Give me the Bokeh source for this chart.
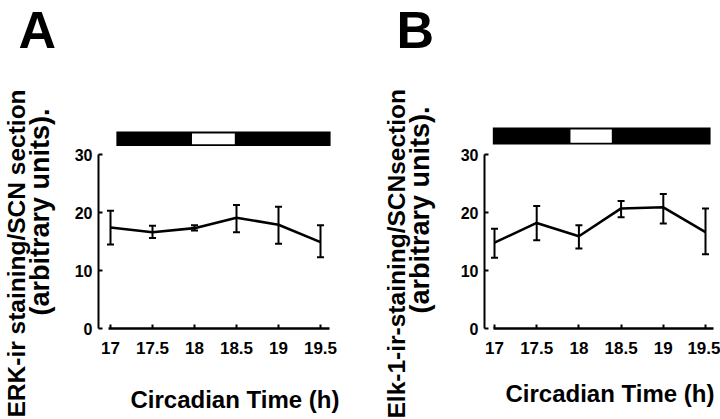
import math
from bokeh.plotting import figure
from bokeh.layouts import row
from bokeh.models import ColumnDataSource, Whisker, TeeHead, FixedTicker, Range1d
from bokeh.core.properties import value
from bokeh.embed import file_html
from bokeh.resources import INLINE

# ---------------- data ----------------
times = [17, 17.5, 18, 18.5, 19, 19.5]
time_labels = ["17", "17.5", "18", "18.5", "19", "19.5"]
y_ticks = [0, 10, 20, 30]

erk_mean = [17.4, 16.6, 17.3, 19.1, 17.9, 14.9]
erk_low = [14.5, 15.6, 16.9, 16.6, 14.6, 12.3]
erk_high = [20.3, 17.7, 17.8, 21.3, 21.0, 17.8]

elk_mean = [14.8, 18.2, 15.9, 20.7, 20.9, 16.6]
elk_low = [12.2, 15.2, 13.8, 19.2, 18.1, 12.8]
elk_high = [17.2, 21.1, 17.8, 22.0, 23.2, 20.7]

# light/dark bars (circadian time)
erk_dark = [17.07, 19.62]
erk_light = [17.97, 18.48]
elk_dark = [16.98, 19.56]
elk_light = [17.90, 18.39]

FONT = "Liberation Sans"
H = 419
FRAME_TOP, FRAME_BOTTOM = 154, 328  # page pixels


def panel(letter, means, lows, highs, dark, light, ylab1, ylab2, g):
    x17, ppu = g["x17"], g["ppu"]
    ypp = 30.0 / (FRAME_BOTTOM - FRAME_TOP)
    W = g["width"]

    def px2x(px):
        return 17 + (px - x17) / ppu

    def py2y(py):
        return (FRAME_BOTTOM - py) * ypp

    p = figure(width=W, height=H, output_backend="svg", toolbar_location=None,
               x_range=Range1d(px2x(g["frame_left"]), px2x(g["frame_right"])),
               y_range=Range1d(0, 30),
               min_border_left=g["frame_left"] - g["origin"],
               min_border_right=g["origin"] + W - g["frame_right"],
               min_border_top=FRAME_TOP,
               min_border_bottom=H - FRAME_BOTTOM)
    p.outline_line_color = None
    p.grid.visible = False
    p.background_fill_color = "white"
    p.border_fill_color = "white"

    # axes
    p.xaxis.ticker = FixedTicker(ticks=times)
    p.xaxis.major_label_overrides = {t: l for t, l in zip(times, time_labels)}
    p.xaxis.axis_line_color = None
    p.xaxis.major_tick_in = 4
    p.xaxis.major_tick_out = 0
    p.xaxis.major_tick_line_width = 2
    p.xaxis.minor_tick_line_color = None
    p.xaxis.major_label_text_font = FONT
    p.xaxis.major_label_text_font_style = "bold"
    p.xaxis.major_label_text_font_size = "17px"
    p.xaxis.major_label_text_color = "black"
    p.xaxis.major_label_standoff = 13

    p.yaxis.ticker = FixedTicker(ticks=y_ticks)
    p.yaxis.axis_line_width = 2
    p.yaxis.axis_line_color = "black"
    p.yaxis.major_tick_in = 4
    p.yaxis.major_tick_out = 0
    p.yaxis.major_tick_line_width = 2
    p.yaxis.minor_tick_line_color = None
    p.yaxis.major_label_text_font = FONT
    p.yaxis.major_label_text_font_style = "bold"
    p.yaxis.major_label_text_font_size = "16px"
    p.yaxis.major_label_text_color = "black"
    p.yaxis.major_label_standoff = 6

    # x axis baseline (detached from the y axis)
    p.segment(x0=[px2x(g["xline"][0])], y0=[0], x1=[px2x(g["xline"][1])], y1=[0],
              line_color="black", line_width=2.5, level="overlay")

    # light/dark bar above plot
    band_lo, band_hi = py2y(g["band"][1]), py2y(g["band"][0])
    p.quad(left=[dark[0]], right=[dark[1]], bottom=[band_lo], top=[band_hi],
           fill_color="black", line_color=None, level="overlay")
    p.quad(left=[light[0]], right=[light[1]], bottom=[band_lo + 0.3], top=[band_hi - 0.35],
           fill_color="white", line_color=None, level="overlay")

    src = ColumnDataSource(dict(x=times, y=means, lo=lows, hi=highs))
    p.line("x", "y", source=src, line_color="black", line_width=2.6)
    p.add_layout(Whisker(source=src, base="x", lower="lo", upper="hi",
                         line_color="black", line_width=2,
                         upper_head=TeeHead(size=7, line_width=2, line_color="black"),
                         lower_head=TeeHead(size=7, line_width=2, line_color="black")))

    def add_label(pos, text, size, angle=0.0):
        p.text(x=[px2x(pos[0])], y=[py2y(pos[1])], text=[text], angle=angle,
               text_font=value(FONT), text_font_style="bold",
               text_font_size=value(size), text_align="left",
               text_baseline="middle", text_color="black", level="overlay")

    add_label(g["letter"], letter, "52px")
    add_label(g["xlab"], "Circadian Time (h)", "24px")
    add_label(g["ylab1"], ylab1, "24.5px", math.pi / 2)
    add_label(g["ylab2"], ylab2, "27px", math.pi / 2)
    return p


# positions (page pixels) of the text centre lines
GEOM_A = dict(origin=0, width=352, frame_left=98, frame_right=331, x17=110, ppu=84.0,
              xline=(108, 329), band=(131, 145.5), letter=(18, 29.5),
              xlab=(130, 399), ylab1=(16, 417), ylab2=(39, 315))
GEOM_B = dict(origin=352, width=368, frame_left=484, frame_right=712, x17=494, ppu=84.4,
              xline=(493, 713), band=(127, 144), letter=(396, 29),
              xlab=(505, 393), ylab1=(395.5, 418), ylab2=(419.5, 313))

pa = panel("A", erk_mean, erk_low, erk_high, erk_dark, erk_light,
           "ERK-ir staining/SCN section", "(arbitrary units).", GEOM_A)
pb = panel("B", elk_mean, elk_low, elk_high, elk_dark, elk_light,
           "Elk-1-ir-staining/SCNsection", "(arbitrary units).", GEOM_B)

layout = row(pa, pb)
open("out.html", "w").write(file_html(layout, INLINE))
